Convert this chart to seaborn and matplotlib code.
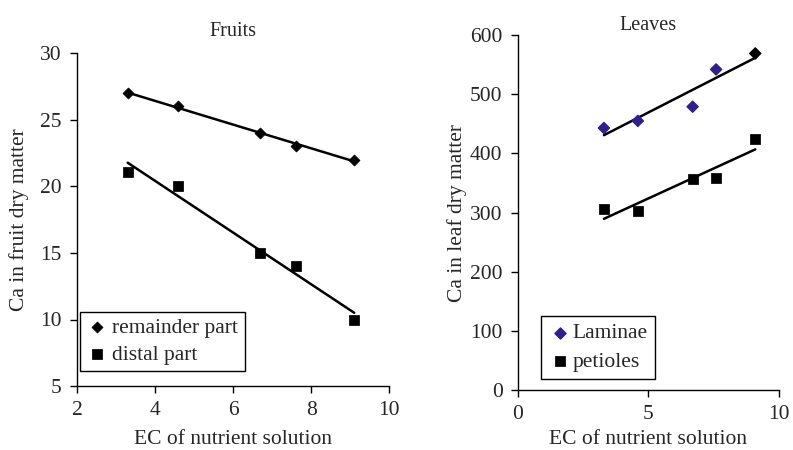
import numpy as np
import pandas as pd
import matplotlib
matplotlib.use("Agg")
import matplotlib.pyplot as plt
import seaborn as sns

sns.set_style("ticks")
plt.rcParams['font.family'] = ['Liberation Serif', 'DejaVu Serif']

# data
ec = [3.3, 4.6, 6.7, 7.6, 9.1]
remainder = [27, 26, 24, 23, 22]
distal = [21.1, 20, 15, 14, 10]
laminae = [443, 455, 479, 542, 569]
petioles = [306, 302, 356, 358, 425]
laminae_colors = ['#2e1f8c', '#2e1f8c', '#2e1f8c', '#2e1f8c', 'black']

fruits = pd.DataFrame({'ec': ec, 'remainder': remainder, 'distal': distal})
leaves = pd.DataFrame({'ec': ec, 'laminae': laminae, 'petioles': petioles})

fig = plt.figure(figsize=(7.93, 4.5), dpi=100)
ax1 = fig.add_axes([0.097, 0.142, 0.394, 0.740])
ax2 = fig.add_axes([0.653, 0.133, 0.329, 0.789])

line_kws = dict(color='black', lw=1.8)
fs = 15.5

# Fruits
sns.regplot(data=fruits, x='ec', y='remainder', ci=None, scatter=False, line_kws=line_kws, ax=ax1)
sns.regplot(data=fruits, x='ec', y='distal', ci=None, scatter=False, line_kws=line_kws, ax=ax1)
sns.scatterplot(data=fruits, x='ec', y='remainder', marker='D', s=32, color='black',
                edgecolor='black', label='remainder part', ax=ax1, zorder=3)
sns.scatterplot(data=fruits, x='ec', y='distal', marker='s', s=45, color='black',
                edgecolor='black', label='distal part', ax=ax1, zorder=3)
ax1.set_xlim(2, 10)
ax1.set_ylim(5, 30)
ax1.set_xticks([2, 4, 6, 8, 10])
ax1.set_yticks([5, 10, 15, 20, 25, 30])
ax1.set_title('Fruits', fontsize=14.5, pad=12)
ax1.set_xlabel('EC of nutrient solution', fontsize=fs, labelpad=7)
ax1.set_ylabel('Ca in fruit dry matter', fontsize=fs, labelpad=8)

# Leaves
sns.regplot(data=leaves, x='ec', y='laminae', ci=None, scatter=False, line_kws=line_kws, ax=ax2)
sns.regplot(data=leaves, x='ec', y='petioles', ci=None, scatter=False, line_kws=line_kws, ax=ax2)
ax2.scatter(leaves['ec'], leaves['laminae'], marker='D', s=32, c=laminae_colors, zorder=3)
ax2.scatter([], [], marker='D', s=32, color='#2e1f8c', label='Laminae')
sns.scatterplot(data=leaves, x='ec', y='petioles', marker='s', s=45, color='black',
                edgecolor='black', label='petioles', ax=ax2, zorder=3)
ax2.set_xlim(0, 10)
ax2.set_ylim(0, 600)
ax2.set_xticks([0, 5, 10])
ax2.set_yticks([0, 100, 200, 300, 400, 500, 600])
ax2.set_title('Leaves', fontsize=14.5, pad=3)
ax2.set_xlabel('EC of nutrient solution', fontsize=fs, labelpad=4)
ax2.set_ylabel('Ca in leaf dry matter', fontsize=fs, labelpad=2)

for ax in (ax1, ax2):
    sns.despine(ax=ax)
    ax.tick_params(labelsize=fs, length=5, width=1, color='black', pad=6)
    for sp in ('left', 'bottom'):
        ax.spines[sp].set_linewidth(1)
        ax.spines[sp].set_color('black')
    ax.grid(False)

ax1.legend(loc='lower left', bbox_to_anchor=(0.01, 0.045), fontsize=fs, frameon=True,
           fancybox=False, edgecolor='black', handletextpad=0.2, handlelength=1.0,
           borderpad=0.3, labelspacing=0.3, borderaxespad=0, framealpha=1)
ax2.legend(loc='lower left', bbox_to_anchor=(0.09, 0.03), fontsize=fs, frameon=True,
           fancybox=False, edgecolor='black', handletextpad=0.1, handlelength=1.0,
           borderpad=0.35, labelspacing=0.4, borderaxespad=0, framealpha=1)
for leg in (ax1.get_legend(), ax2.get_legend()):
    leg.get_frame().set_linewidth(1)

fig.savefig('out.png', dpi=100)
